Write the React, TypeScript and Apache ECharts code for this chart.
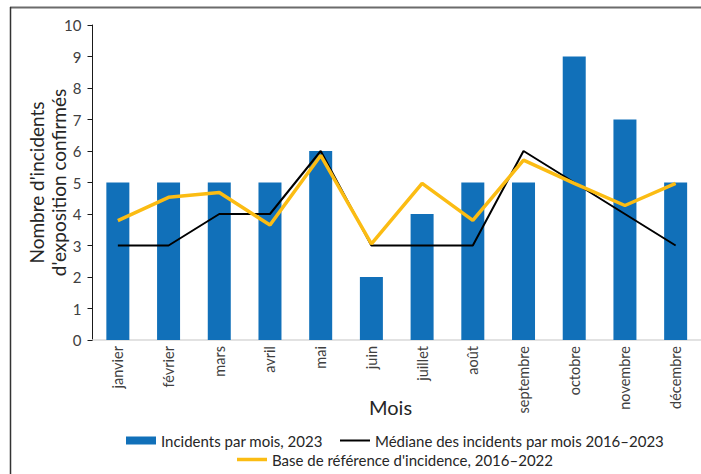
import React, { useEffect, useRef } from "react";
import * as echarts from "echarts";

const months = ["janvier", "février", "mars", "avril", "mai", "juin", "juillet", "août", "septembre", "octobre", "novembre", "décembre"];
const incidents2023 = [5, 5, 5, 5, 6, 2, 4, 5, 5, 9, 7, 5];
const median20162023 = [3, 3, 4, 4, 6, 3, 3, 3, 6, 5, 4, 3];
const baseline20162022 = [3.79, 4.53, 4.68, 3.65, 5.86, 3.05, 4.97, 3.8, 5.71, 4.97, 4.27, 4.97];
const yTicks = { min: 0, max: 10, interval: 1 };

const S_BAR = "Incidents par mois, 2023";
const S_MED = "Médiane des incidents par mois 2016–2023";
const S_BASE = "Base de référence d'incidence, 2016–2022";

const FONT = "Lato, 'Open Sans', sans-serif";

export default function App() {
  const ref = useRef<HTMLDivElement>(null);
  useEffect(() => {
    if (!ref.current) return;
    const chart = echarts.init(ref.current, null, { renderer: "svg" });
    const legendText = { fontSize: 15, color: "#262626", fontFamily: FONT };
    const legendBase = { padding: 0, itemWidth: 30, icon: "rect", textStyle: legendText };
    chart.setOption({
      animation: false,
      backgroundColor: "#ffffff",
      textStyle: { fontFamily: FONT },
      grid: { left: 92.5, top: 25, width: 615, height: 315, containLabel: false },
      xAxis: {
        type: "category",
        data: months,
        axisLine: { lineStyle: { color: "#d9d9d9", width: 1.5 } },
        axisTick: { show: false },
        axisLabel: { rotate: 90, fontSize: 14.5, color: "#404040", margin: 6, fontFamily: FONT },
      },
      yAxis: {
        type: "value",
        min: yTicks.min,
        max: yTicks.max,
        interval: yTicks.interval,
        splitLine: { show: false },
        axisLine: { show: true, lineStyle: { color: "#1a1a1a", width: 1 } },
        axisTick: { show: true, length: 5, lineStyle: { color: "#1a1a1a" } },
        axisLabel: { fontSize: 15, color: "#404040", margin: 11, fontFamily: FONT },
        name: "Nombre d'incidents\nd'exposition confirmés",
        nameLocation: "middle",
        nameGap: 23,
        nameMoveOverlap: false,
        nameTextStyle: { fontSize: 19, color: "#262626", lineHeight: 22, fontFamily: FONT },
      },
      legend: [
        { ...legendBase, data: [S_BAR], left: 126, top: 433, itemHeight: 8 },
        { ...legendBase, data: [S_MED], left: 340, top: 433, itemHeight: 2 },
        { ...legendBase, data: [S_BASE], left: 237, top: 452, itemHeight: 3.5 },
      ],
      series: [
        {
          name: S_BAR,
          type: "bar",
          data: incidents2023,
          barWidth: 23,
          itemStyle: { color: "#1170B9" },
        },
        {
          name: S_MED,
          type: "line",
          data: median20162023,
          symbol: "none",
          lineStyle: { color: "#000000", width: 2 },
          itemStyle: { color: "#000000" },
        },
        {
          name: S_BASE,
          type: "line",
          data: baseline20162022,
          symbol: "none",
          lineStyle: { color: "#FBBC13", width: 3.5 },
          itemStyle: { color: "#FBBC13" },
        },
      ],
      graphic: [
        { type: "line", shape: { x1: 10, y1: 7.5, x2: 701, y2: 7.5 }, style: { stroke: "#6b6b6b", lineWidth: 2 } },
        { type: "line", shape: { x1: 10.5, y1: 7, x2: 10.5, y2: 474 }, style: { stroke: "#333333", lineWidth: 1.5 } },
        {
          type: "text",
          left: 369,
          top: 397,
          style: { text: "Mois", fontSize: 20, fill: "#262626", fontFamily: FONT },
        },
      ],
    });
    return () => chart.dispose();
  }, []);
  return <div ref={ref} style={{ width: 701, height: 474, position: "absolute", left: 0, top: 0 }} />;
}
